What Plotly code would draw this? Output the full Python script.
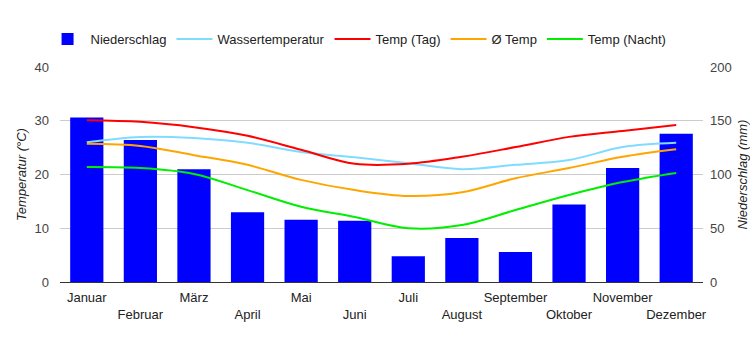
import plotly.graph_objects as go

months = ["Januar", "Februar", "März", "April", "Mai", "Juni", "Juli",
          "August", "September", "Oktober", "November", "Dezember"]
niederschlag = [153, 132, 105, 65, 58, 57, 24, 41, 28, 72, 106, 138]
wasser = [26.0, 27.0, 26.8, 25.9, 24.2, 23.2, 22.1, 21.0, 21.8, 22.7, 25.1, 25.9]
temp_tag = [30.1, 29.8, 28.8, 27.2, 24.6, 22.0, 22.0, 23.3, 25.1, 27.0, 28.1, 29.2]
temp_avg = [25.7, 25.3, 23.6, 21.8, 19.0, 17.1, 16.0, 16.7, 19.3, 21.2, 23.3, 24.7]
temp_nacht = [21.4, 21.2, 20.1, 17.1, 14.0, 12.1, 10.0, 10.6, 13.4, 16.2, 18.6, 20.3]

tick_text = [m if i % 2 == 0 else "<br>" + m for i, m in enumerate(months)]

font = "Liberation Sans, Arial, sans-serif"

fig = go.Figure()
fig.add_trace(go.Bar(x=months, y=niederschlag, name="Niederschlag",
                     marker=dict(color="#0000ff", line=dict(width=0)), yaxis="y"))
line_specs = [
    ("Wassertemperatur", wasser, "#80dcff"),
    ("Temp (Tag)", temp_tag, "#ff0000"),
    ("Ø Temp", temp_avg, "#ffa500"),
    ("Temp (Nacht)", temp_nacht, "#00ee00"),
]
for name, vals, col in line_specs:
    fig.add_trace(go.Scatter(x=months, y=vals, name=name, mode="lines",
                             line=dict(color=col, width=2, shape="spline", smoothing=1),
                             yaxis="y2"))

fig.update_layout(
    width=750, height=350,
    margin=dict(l=60, r=47, t=67, b=68, autoexpand=False),
    paper_bgcolor="white", plot_bgcolor="white",
    font=dict(family=font, size=13, color="#222"),
    bargap=0.38,
    showlegend=True,
    legend=dict(orientation="h", x=-0.024, xanchor="left", y=1.13, yanchor="middle",
                itemwidth=36,
                font=dict(size=13, color="#222"), traceorder="normal"),
    xaxis=dict(tickmode="array", tickvals=months, ticktext=tick_text,
               showline=True, linecolor="#333", linewidth=1, showgrid=False,
               ticks="", tickfont=dict(size=13, color="#222"), tickangle=0,
               automargin=False, ticklabelstandoff=3),
    yaxis=dict(range=[0, 200], tickvals=[0, 50, 100, 150, 200], side="right",
               showgrid=True, gridcolor="#cccccc", zeroline=False,
               tickfont=dict(size=13, color="#444"), ticklabelstandoff=6,
               automargin=False,
               title=dict(text="<i>Niederschlag (mm)</i>", standoff=8,
                          font=dict(size=13, color="#222"))),
    yaxis2=dict(range=[0, 40], tickvals=[0, 10, 20, 30, 40], side="left", overlaying="y",
                showgrid=False, zeroline=False,
                tickfont=dict(size=13, color="#444"), ticklabelstandoff=10,
                automargin=False,
                title=dict(text="<i>Temperatur (°C)</i>", standoff=4,
                           font=dict(size=13, color="#222"))),
)

fig.write_html("out.html")
